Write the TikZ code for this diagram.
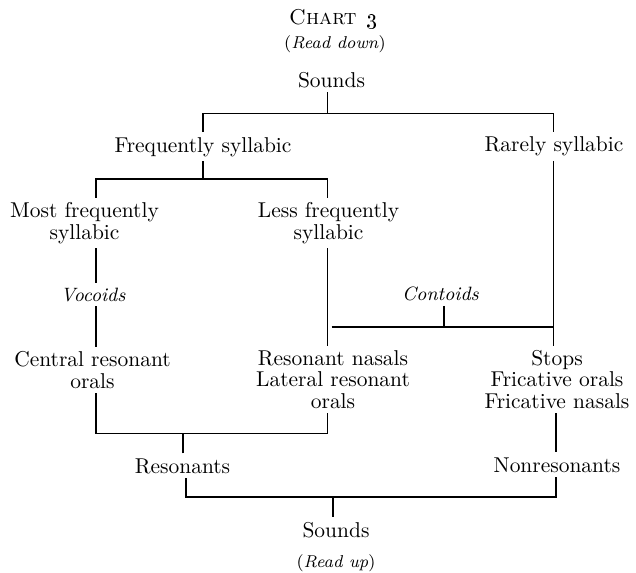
\documentclass[tikz,border=0pt]{standalone}
\begin{document}
\begin{tikzpicture}[x=0.466pt,y=-0.466pt,
  lbl/.style={anchor=base, inner sep=2.33pt, outer sep=0pt, align=center,
              font=\fontsize{10pt}{9.8pt}\selectfont},
  itl/.style={lbl, font=\fontsize{9pt}{10pt}\selectfont\itshape},
  rd/.style={lbl, font=\fontsize{8pt}{9pt}\selectfont},
  link/.style={line width=0.7pt}]
\useasboundingbox (0,0) rectangle (636,572);
% texts (multi-line nodes are placed by the baseline of their last line)
\node[lbl] (title) at (333,24) {\textsc{Chart}\hspace{0.45em}\oldstylenums{3}};
\node[rd] (rdown) at (335,48) {(\textit{Read down})};
\node[lbl] (s1) at (331.5,87) {Sounds};
\node[lbl] (freq) at (203,152) {Frequently syllabic};
\node[lbl] (rare) at (554,151.5) {Rarely syllabic};
\node[lbl] (most) at (84.5,239) {Most frequently\\syllabic};
\node[lbl] (less) at (328.5,239) {Less frequently\\syllabic};
\node[itl] (voc) at (93,301) {Vocoids};
\node[itl] (con) at (440.5,300.5) {Contoids};
\node[lbl] (cen) at (92.5,388) {Central resonant\\orals};
\node[lbl] (rn) at (333,408) {Resonant nasals\\Lateral resonant\\orals};
\node[lbl] (stp) at (557,408) {Stops\\Fricative orals\\Fricative nasals};
\node[lbl] (res) at (182.5,473) {Resonants};
\node[lbl] (non) at (557,472) {Nonresonants};
\node[lbl] (s2) at (336,537) {Sounds};
\node[rd] (rup) at (336,567) {(\textit{Read up})};
% columns and rows
\coordinate (cA) at (96,0);
\coordinate (cF) at (203,0);
\coordinate (cM) at (327.5,0);
\coordinate (cMg) at (331.5,0);
\coordinate (cC) at (444,0);
\coordinate (cR) at (553.5,0);
\coordinate (cRu) at (183,0);
\coordinate (cRd) at (186,0);
\coordinate (cN) at (556,0);
\coordinate (cS) at (333,0);
\coordinate (r1) at (0,113.5);
\coordinate (r2) at (0,179);
\coordinate (rC) at (0,327);
\coordinate (r3) at (0,433.5);
\coordinate (r4) at (0,497);
% connectors
\draw[link] (s1.south -| cM) -- (cM |- r1);
\draw[link] (freq.north -| cF) -- (cF |- r1) -- (cR |- r1) -- (rare.north -| cR);
\draw[link] (freq.south -| cF) -- (cF |- r2);
\draw[link] (most.north -| cA) -- (cA |- r2) -- (cM |- r2) -- (less.north -| cM);
\draw[link] (most.south -| cA) -- (voc.north -| cA);
\draw[link] (voc.south -| cA) -- (cen.north -| cA);
\draw[link] (less.south -| cM) -- (rn.north -| cM);
\draw[link] (rare.south -| cR) -- (stp.north -| cR);
\draw[link] (con.south -| cC) -- (cC |- rC);
\draw[link] (cMg |- rC) -- (cR |- rC);
\draw[link] (cen.south -| cA) -- (cA |- r3) -- (cM |- r3) -- (rn.south -| cM);
\draw[link] (res.north -| cRu) -- (cRu |- r3);
\draw[link] (res.south -| cRd) -- (cRd |- r4) -- (cN |- r4) -- (non.south -| cN);
\draw[link] (stp.south -| cN) -- (non.north -| cN);
\draw[link] (s2.north -| cS) -- (cS |- r4);
\end{tikzpicture}
\end{document}
